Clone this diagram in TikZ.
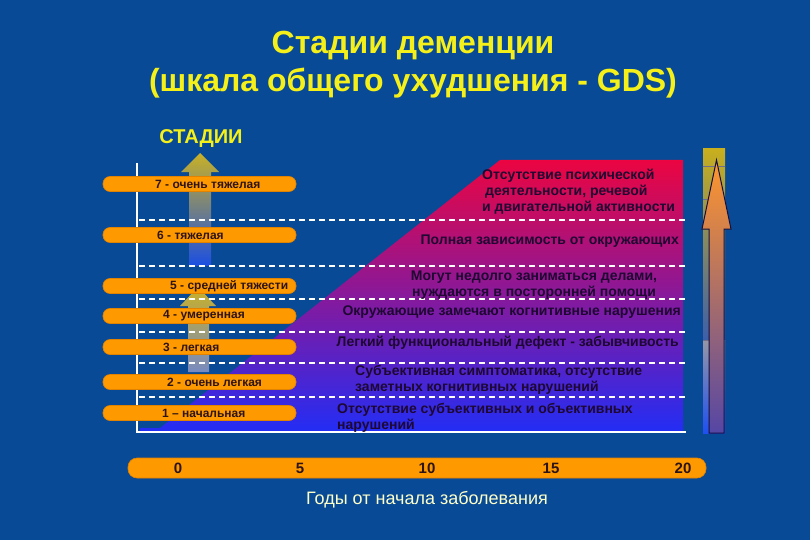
\documentclass[tikz,border=0pt]{standalone}
\usepackage{fontspec}
\setmainfont{Liberation Sans}
\definecolor{bgblue}{RGB}{8,74,150}
\definecolor{titleyel}{RGB}{245,240,25}
\definecolor{barorange}{RGB}{255,153,0}
\definecolor{baredge}{RGB}{225,130,0}
\definecolor{bartext}{RGB}{45,20,20}
\definecolor{desctext}{RGB}{30,8,50}
\definecolor{gradtop}{RGB}{235,5,65}
\definecolor{gradmid}{RGB}{125,30,160}
\definecolor{gradbot}{RGB}{35,45,245}
\definecolor{arryel}{RGB}{235,195,20}
\definecolor{arrblue}{RGB}{30,80,240}
\definecolor{arrgrey}{RGB}{140,150,200}
\definecolor{bigtop}{RGB}{255,150,45}
\definecolor{bigbot}{RGB}{85,70,165}
\definecolor{bignavy}{RGB}{20,15,60}
\definecolor{boxtop}{RGB}{200,175,30}
\definecolor{boxmid}{RGB}{60,95,170}
\definecolor{boxgrey}{RGB}{150,150,165}
\definecolor{yearcol}{RGB}{255,255,200}
\begin{document}
\begin{tikzpicture}[x=1pt,y=-1pt,
  stagebar/.style={draw=baredge, line width=0.6pt, fill=barorange, rounded corners=7pt,
    minimum width=193pt, minimum height=15pt, inner sep=0pt},
  stagelabel/.style={text=bartext, font=\bfseries\fontsize{12}{14}\selectfont, inner sep=0pt, anchor=west},
  desc/.style={text=desctext, font=\bfseries\fontsize{14}{16}\selectfont, inner sep=0pt},
  yearnum/.style={text=bartext, font=\bfseries\fontsize{15}{17}\selectfont, inner sep=0pt},
  gridline/.style={white, dashed, dash pattern=on 6pt off 4pt, line width=1.1pt},
  axisline/.style={white, line width=2.5pt}
]
\useasboundingbox (0,0) rectangle (810,540);
\fill[bgblue] (0,0) rectangle (810,540);

% title
\node[text=titleyel, font=\bfseries\fontsize{32}{38}\selectfont, align=center] (title) at (413,65)
  {Стадии деменции\\(шкала общего ухудшения - GDS)};
\node[text=titleyel, font=\bfseries\fontsize{20}{22}\selectfont, inner sep=0pt] (stadii) at (201,139) {СТАДИИ};

% gradient area
\shade[top color=gradtop, middle color=gradmid, bottom color=gradbot]
  (500,160) -- (683,160) -- (683,432) -- (140,432) -- (140,428) -- (160,428) -- cycle;

% translucent arrows
\shade[top color=arryel, bottom color=arrblue, opacity=0.85]
  (200,153) -- (219,172) -- (211,172) -- (211,266) -- (189,266) -- (189,172) -- (181,172) -- cycle;
\shade[top color=arryel, bottom color=arrgrey, opacity=0.85]
  (198,287) -- (216,306) -- (209,306) -- (209,372) -- (188,372) -- (188,306) -- (180,306) -- cycle;

% right column
\shade[top color=boxtop, bottom color=boxmid] (703,149) rectangle (725,340);
\shade[top color=boxgrey, bottom color=arrblue] (703,340) rectangle (725,433);
\draw[bignavy!60, line width=0.5pt] (703,166) -- (725,166) (703,199) -- (725,199) (703,340) -- (710,340);
\shadedraw[top color=bigtop, bottom color=bigbot, draw=bignavy, line width=1pt]
  (716.5,160) -- (731,229) -- (724,229) -- (724,433) -- (709,433) -- (709,229) -- (702,229) -- cycle;

% grid lines
\foreach \yy in {220,266,299,332,363,397}
  \draw[gridline] (139,\yy) -- (686,\yy);

% axes
\coordinate (axtop) at (137,163);
\coordinate (axorig) at (137,432);
\coordinate (axright) at (686,432);
\draw[axisline] (axtop) -- (axorig) -- (axright);

% stage bars
\node[stagebar] (b7) at (199.5,184) {};
\node[stagebar] (b6) at (199.5,235) {};
\node[stagebar] (b5) at (199.5,286) {};
\node[stagebar] (b4) at (199.5,316) {};
\node[stagebar] (b3) at (199.5,347) {};
\node[stagebar] (b2) at (199.5,382) {};
\node[stagebar] (b1) at (199.5,413) {};
\node[stagelabel] (t7) at (155,184) {7 - очень тяжелая};
\node[stagelabel] (t6) at (157,235) {6 - тяжелая};
\node[stagelabel] (t5) at (170,286) {5 - средней тяжести};
\node[stagelabel] (t4) at (163,316) {4 - умеренная};
\node[stagelabel] (t3) at (163,347) {3 - легкая};
\node[stagelabel] (t2) at (167,382) {2 - очень легкая};
\node[stagelabel] (t1) at (162,413) {1 – начальная};

% descriptions
\node[desc, align=left, anchor=west] (d7) at (482,192)
  {Отсутствие психической\\\hspace*{3pt}деятельности, речевой\\и двигательной активности};
\node[desc, anchor=east] (d6) at (679,241) {Полная зависимость от окружающих};
\node[desc, align=center] (d5) at (534,285) {Могут недолго заниматься делами,\\нуждаются в посторонней помощи};
\node[desc, anchor=east] (d4) at (681,312) {Окружающие замечают когнитивные нарушения};
\node[desc, anchor=east] (d3) at (679,343) {Легкий функциональный дефект - забывчивость};
\node[desc, align=left, anchor=west] (d2) at (355,380) {Субъективная симптоматика, отсутствие\\заметных когнитивных нарушений};
\node[desc, align=left, anchor=west] (d1) at (337,418) {Отсутствие субъективных и объективных\\нарушений};

% years bar
\node[draw=baredge, line width=0.6pt, fill=barorange, rounded corners=9pt,
  minimum width=578pt, minimum height=20pt, inner sep=0pt] (years) at (417,468) {};
\node[yearnum] (y0) at (178,468) {0};
\node[yearnum] (y5) at (300,468) {5};
\node[yearnum] (y10) at (427,468) {10};
\node[yearnum] (y15) at (551,468) {15};
\node[yearnum] (y20) at (683,468) {20};
\node[text=yearcol, font=\fontsize{18}{21}\selectfont, inner sep=0pt] (ylabel) at (427,500) {Годы от начала заболевания};
\end{tikzpicture}
\end{document}
